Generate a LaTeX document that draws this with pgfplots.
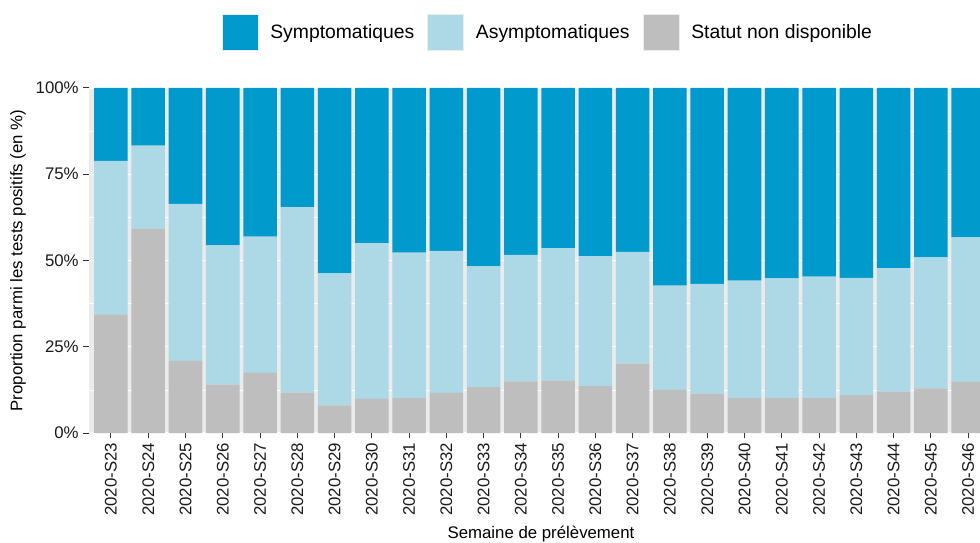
\documentclass[border=0pt]{standalone}
\usepackage{pgfplots}
\usepackage{pgfplotstable}
\pgfplotsset{compat=1.18}
\usepackage{fontspec}
\setmainfont{Liberation Sans}
\definecolor{symp}{HTML}{009ACD}
\definecolor{asym}{HTML}{ADD8E6}
\definecolor{nd}{HTML}{BEBEBE}
\definecolor{panel}{HTML}{EBEBEB}
\definecolor{ticklab}{HTML}{1A1A1A}
\definecolor{tickcol}{HTML}{333333}

\pgfplotstableread{
x grey asym symp
0 34.4 44.5 21.1
1 59.1 24.2 16.7
2 20.9 45.5 33.6
3 14.0 40.4 45.6
4 17.4 39.5 43.1
5 11.7 53.8 34.5
6 8.0 38.3 53.7
7 9.9 45.1 45.0
8 10.1 42.2 47.7
9 11.6 41.2 47.2
10 13.3 35.0 51.7
11 15.0 36.6 48.4
12 15.2 38.4 46.4
13 13.6 37.7 48.7
14 20.1 32.4 47.5
15 12.5 30.2 57.3
16 11.4 31.8 56.8
17 10.1 34.1 55.8
18 10.1 34.7 55.2
19 10.1 35.2 54.7
20 11.0 34.0 55.0
21 12.0 35.8 52.2
22 12.9 38.0 49.1
23 14.8 41.9 43.3
}\data

\begin{document}
\begin{tikzpicture}
\begin{axis}[
  scale only axis, width=668.55pt, height=258.75pt,
  xmin=-0.6, xmax=23.32, ymin=0, ymax=100,
  ybar stacked, bar width=0.9,
  axis background/.style={fill=panel},
  axis line style={draw=none},
  xtick={0,...,23},
  xticklabels={2020-S23,2020-S24,2020-S25,2020-S26,2020-S27,2020-S28,2020-S29,2020-S30,2020-S31,2020-S32,2020-S33,2020-S34,2020-S35,2020-S36,2020-S37,2020-S38,2020-S39,2020-S40,2020-S41,2020-S42,2020-S43,2020-S44,2020-S45,2020-S46},
  ytick={0,25,50,75,100}, yticklabels={0\%,25\%,50\%,75\%,100\%},
  minor ytick={12.5,37.5,62.5,87.5},
  ymajorgrids, yminorgrids,
  major grid style={white, line width=1.1pt},
  minor grid style={white, line width=0.55pt},
  tick align=outside, tick pos=left, major tick length=3.9pt, minor tick length=0pt,
  major tick style={tickcol, line width=0.75pt},
  /pgf/number format/assume math mode=true,
  tick label style={font=\fontsize{12.6}{14}\selectfont, text=ticklab},
  xticklabel style={rotate=90, anchor=east},
  xlabel={Semaine de prélèvement},
  ylabel={Proportion parmi les tests positifs (en \%)},
  label style={font=\fontsize{12.6}{14}\selectfont, text=black},
  xlabel style={at={(axis description cs:0.5075,-0.2928)}, anchor=center},
  ylabel style={at={(axis description cs:-0.0792,0.5)}, anchor=center},
  legend columns=3,
  legend style={at={(axis description cs:0.514,1.162)}, anchor=center, draw=none, fill=none,
    font=\fontsize{14.5}{16}\selectfont,
    nodes={inner xsep=0pt},
    /tikz/every odd column/.append style={column sep=9pt},
    /tikz/every even column/.append style={column sep=9.75pt}},
  legend image code/.code={\draw[#1] (0pt,-13.5pt) rectangle (27pt,13.5pt);},
]
\addlegendimage{fill=symp, draw=white!93!black, line width=0.5pt}
\addlegendentry{Symptomatiques}
\addlegendimage{fill=asym, draw=white!93!black, line width=0.5pt}
\addlegendentry{Asymptomatiques}
\addlegendimage{fill=nd, draw=white!93!black, line width=0.5pt}
\addlegendentry{Statut non disponible}
\addplot[fill=nd, draw=none, forget plot] table[x=x, y=grey] {\data};
\addplot[fill=asym, draw=none, forget plot] table[x=x, y=asym] {\data};
\addplot[fill=symp, draw=none, forget plot] table[x=x, y=symp] {\data};
\end{axis}
\pgfresetboundingbox
\path[use as bounding box] (-66.45pt,-81.75pt) rectangle (668.55pt,324.75pt);
\end{tikzpicture}
\end{document}
